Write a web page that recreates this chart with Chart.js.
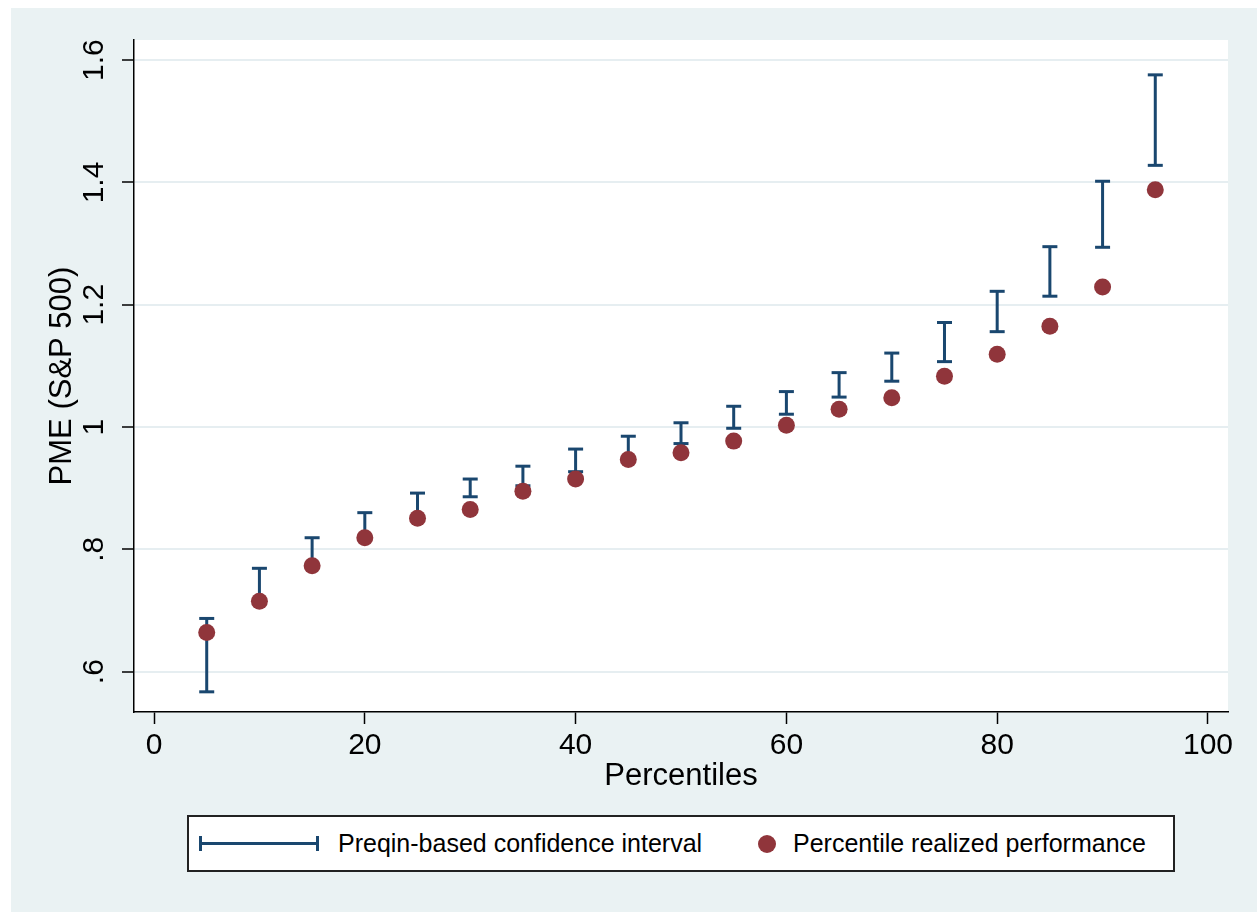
<!DOCTYPE html>
<html>
<head>
<meta charset="utf-8">
<script src="https://cdn.jsdelivr.net/npm/chart.js@4.4.1/dist/chart.umd.min.js"></script>
<style>
html,body{margin:0;padding:0;background:#fff;}
#wrap{position:relative;width:1257px;height:912px;overflow:hidden;}
canvas{position:absolute;left:0;top:0;}
#legend{position:absolute;left:187px;top:815px;width:988px;height:57px;box-sizing:border-box;border:2px solid #222;background:#fff;font-family:'Liberation Sans',Arial,sans-serif;font-size:25px;color:#000;}
.item{position:absolute;top:0;height:53px;line-height:53px;white-space:nowrap;}
.dot{position:absolute;width:18px;height:18px;border-radius:50%;background:#90353B;left:569px;top:17.5px;}
</style>
</head>
<body>
<div id="wrap">
<canvas id="c" width="1257" height="912"></canvas>
<div id="legend">
  <svg style="position:absolute;left:10px;top:19px" width="122" height="16" viewBox="0 0 122 16">
    <line x1="1.5" y1="7.5" x2="118.5" y2="7.5" stroke="#1A476F" stroke-width="3"/>
    <line x1="1.5" y1="0" x2="1.5" y2="15" stroke="#1A476F" stroke-width="3"/>
    <line x1="118.5" y1="0" x2="118.5" y2="15" stroke="#1A476F" stroke-width="3"/>
  </svg>
  <span class="item" style="left:149px">Preqin-based confidence interval</span>
  <span class="dot"></span>
  <span class="item" style="left:604px">Percentile realized performance</span>
</div>
</div>
<script>
const percentiles = [5,10,15,20,25,30,35,40,45,50,55,60,65,70,75,80,85,90,95];
const realized = [0.664,0.715,0.773,0.819,0.851,0.865,0.895,0.915,0.947,0.958,0.977,1.003,1.029,1.048,1.083,1.119,1.165,1.229,1.388];
const ciLow  = [0.567,0.717,0.775,0.821,0.853,0.886,0.904,0.927,0.949,0.973,0.998,1.021,1.049,1.075,1.107,1.156,1.214,1.294,1.428];
const ciHigh = [0.687,0.769,0.819,0.860,0.892,0.915,0.936,0.964,0.985,1.007,1.034,1.058,1.089,1.121,1.171,1.222,1.295,1.402,1.576];
const xTicks = [0,20,40,60,80,100];
const yTicks = [0.6,0.8,1.0,1.2,1.4,1.6];
const yTickLabels = ['.6','.8','1','1.2','1.4','1.6'];

const FONT = "'Liberation Sans', Arial, sans-serif";

const ciData = [];
percentiles.forEach((p, i) => {
  ciData.push({x: p, y: ciLow[i]}, {x: p, y: ciHigh[i]}, {x: p, y: null});
});
const dotData = percentiles.map((p, i) => ({x: p, y: realized[i]}));

const bgPlugin = {
  id: 'bg',
  beforeDraw(chart) {
    const {ctx, chartArea: a} = chart;
    ctx.save();
    ctx.fillStyle = '#fff';
    ctx.fillRect(0, 0, chart.width, chart.height);
    ctx.fillStyle = '#EAF2F3';
    ctx.fillRect(11, 8, chart.width - 11, chart.height - 8);
    ctx.fillStyle = '#fff';
    ctx.fillRect(a.left, a.top, a.right - a.left, a.bottom - a.top);
    ctx.restore();
  }
};

// Rotated y tick labels, centred on each tick of the y scale
const yLabelPlugin = {
  id: 'ylabels',
  afterDraw(chart) {
    const s = chart.scales.y;
    const ctx = chart.ctx;
    ctx.save();
    ctx.font = '30px ' + FONT;
    ctx.fillStyle = '#000';
    ctx.textAlign = 'center';
    ctx.textBaseline = 'middle';
    const cx = s.right - 12 - 6 - 21;
    yTicks.forEach((v, i) => {
      const py = s.getPixelForValue(v);
      ctx.save();
      ctx.translate(cx, py);
      ctx.rotate(-Math.PI / 2);
      ctx.fillText(yTickLabels[i], 0, 0);
      ctx.restore();
    });
    ctx.restore();
  }
};

new Chart(document.getElementById('c').getContext('2d'), {
  type: 'scatter',
  data: {
    datasets: [
      {
        label: 'Percentile realized performance',
        data: dotData,
        backgroundColor: '#90353B',
        borderColor: '#90353B',
        pointRadius: 8.5,
        pointHoverRadius: 8.5,
        pointBorderWidth: 0,
        order: 0
      },
      {
        label: 'Preqin-based confidence interval',
        data: ciData,
        showLine: true,
        spanGaps: false,
        tension: 0,
        borderColor: '#1A476F',
        borderWidth: 3,
        pointStyle: 'line',
        pointRadius: 7.5,
        pointHoverRadius: 7.5,
        pointBorderWidth: 3,
        pointBorderColor: '#1A476F',
        pointBackgroundColor: '#1A476F',
        order: 1
      }
    ]
  },
  options: {
    responsive: false,
    animation: false,
    events: [],
    layout: {padding: {left: 0, top: 40, right: 29, bottom: 117}},
    plugins: {legend: {display: false}, tooltip: {enabled: false}},
    scales: {
      x: {
        type: 'linear',
        min: -1.9,
        max: 101.9,
        afterBuildTicks: s => { s.ticks = xTicks.map(v => ({value: v})); },
        afterFit: s => { s.height = 83; },
        grid: {drawOnChartArea: false, tickLength: 12, tickColor: '#000', tickWidth: 1.5},
        border: {color: '#000', width: 1.5},
        ticks: {font: {family: FONT, size: 30}, color: '#000', padding: 4, maxRotation: 0, autoSkip: false},
        title: {display: true, text: 'Percentiles', font: {family: FONT, size: 31}, color: '#000', padding: 0}
      },
      y: {
        type: 'linear',
        min: 0.534,
        max: 1.633,
        afterBuildTicks: s => { s.ticks = yTicks.map(v => ({value: v})); },
        afterFit: s => { s.width = 134; },
        grid: {color: '#E6EEF1', lineWidth: 2, tickLength: 12, tickColor: '#000', tickWidth: 1.5},
        border: {color: '#000', width: 1.5},
        ticks: {display: false},
        title: {display: true, text: 'PME (S&P 500)', font: {family: FONT, size: 31}, color: '#000', padding: {top: 44, bottom: 0}}
      }
    }
  },
  plugins: [bgPlugin, yLabelPlugin]
});
</script>
</body>
</html>
